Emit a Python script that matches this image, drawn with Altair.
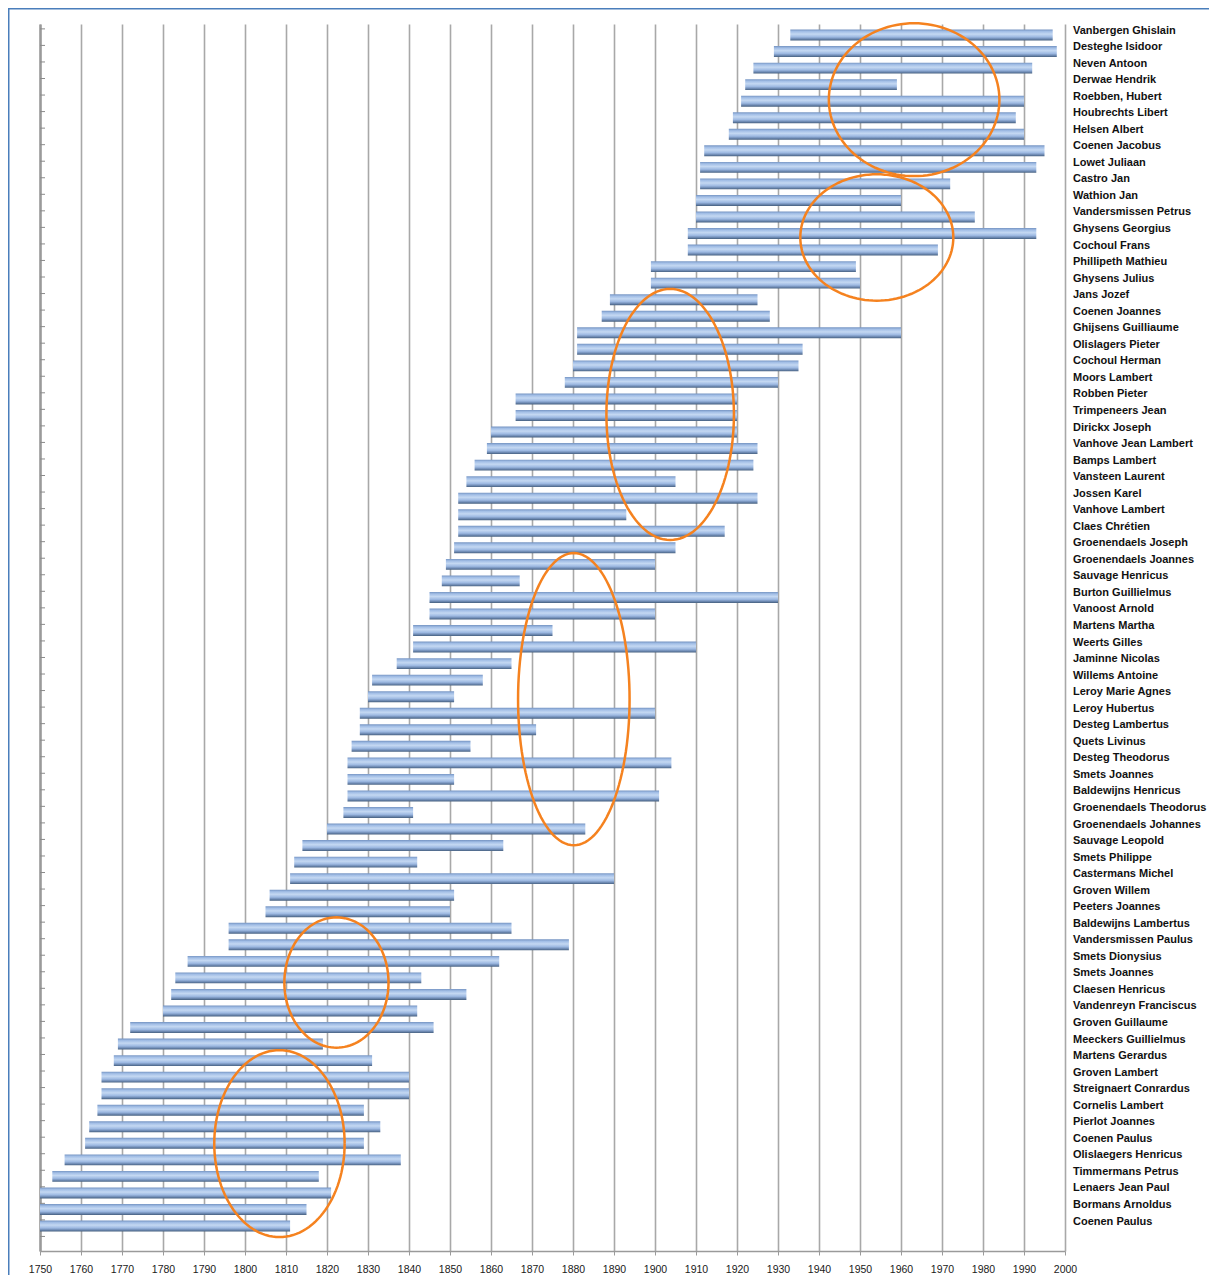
import altair as alt
import numpy as np
import pandas as pd

names = [
    "Vanbergen Ghislain", "Desteghe Isidoor", "Neven Antoon", "Derwae Hendrik",
    "Roebben, Hubert", "Houbrechts Libert", "Helsen Albert", "Coenen Jacobus",
    "Lowet Juliaan", "Castro Jan", "Wathion Jan", "Vandersmissen Petrus",
    "Ghysens Georgius", "Cochoul Frans", "Phillipeth Mathieu", "Ghysens Julius",
    "Jans Jozef", "Coenen Joannes", "Ghijsens Guilliaume", "Olislagers Pieter",
    "Cochoul Herman", "Moors Lambert", "Robben Pieter", "Trimpeneers Jean",
    "Dirickx Joseph", "Vanhove Jean Lambert", "Bamps Lambert", "Vansteen Laurent",
    "Jossen Karel", "Vanhove Lambert", "Claes Chrétien", "Groenendaels Joseph",
    "Groenendaels Joannes", "Sauvage Henricus", "Burton Guillielmus", "Vanoost Arnold",
    "Martens Martha", "Weerts Gilles", "Jaminne Nicolas", "Willems Antoine",
    "Leroy Marie Agnes", "Leroy Hubertus", "Desteg Lambertus", "Quets Livinus",
    "Desteg Theodorus", "Smets Joannes", "Baldewijns Henricus", "Groenendaels Theodorus",
    "Groenendaels Johannes", "Sauvage Leopold", "Smets Philippe", "Castermans Michel",
    "Groven Willem", "Peeters Joannes", "Baldewijns Lambertus", "Vandersmissen Paulus",
    "Smets Dionysius", "Smets Joannes", "Claesen Henricus", "Vandenreyn Franciscus",
    "Groven Guillaume", "Meeckers Guillielmus", "Martens Gerardus", "Groven Lambert",
    "Streignaert Conrardus", "Cornelis Lambert", "Pierlot Joannes", "Coenen Paulus",
    "Olislaegers Henricus", "Timmermans Petrus", "Lenaers Jean Paul", "Bormans Arnoldus",
    "Coenen Paulus",
]

starts = [1933, 1929, 1924, 1922, 1921, 1919, 1918, 1912, 1911, 1911,
          1910, 1910, 1908, 1908, 1899, 1899, 1889, 1887, 1881, 1881,
          1880, 1878, 1866, 1866, 1860, 1859, 1856, 1854, 1852, 1852,
          1852, 1851, 1849, 1848, 1845, 1845, 1841, 1841, 1837, 1831,
          1830, 1828, 1828, 1826, 1825, 1825, 1825, 1824, 1820, 1814,
          1812, 1811, 1806, 1805, 1796, 1796, 1786, 1783, 1782, 1780,
          1772, 1769, 1768, 1765, 1765, 1764, 1762, 1761, 1756, 1753,
          1750, 1750, 1750]

ends = [1997, 1998, 1992, 1959, 1990, 1988, 1990, 1995, 1993, 1972,
        1960, 1978, 1993, 1969, 1949, 1950, 1925, 1928, 1960, 1936,
        1935, 1930, 1920, 1920, 1920, 1925, 1924, 1905, 1925, 1893,
        1917, 1905, 1900, 1867, 1930, 1900, 1875, 1910, 1865, 1858,
        1851, 1900, 1871, 1855, 1904, 1851, 1901, 1841, 1883, 1863,
        1842, 1890, 1851, 1850, 1865, 1879, 1862, 1843, 1854, 1842,
        1846, 1819, 1831, 1840, 1840, 1829, 1833, 1829, 1838, 1818,
        1821, 1815, 1811]

x_ticks = list(range(1750, 2001, 10))

# annotation ellipses: centre year, centre row, radius (years), radius (rows)
ell_cx = [1963.2, 1954.1, 1903.7, 1880.2, 1822.3, 1808.4]
ell_cy = [3.91, 12.24, 22.94, 40.15, 57.28, 67.02]
ell_rx = [20.8, 18.66, 15.55, 13.6, 12.7, 15.9]
ell_ry = [4.62, 3.82, 7.59, 8.83, 3.94, 5.65]

W, H = 1025, 1227
Y_DOMAIN = [-0.665, 73.51]

bars = pd.DataFrame({
    "row": list(range(len(names))),
    "name": names,
    "start": starts,
    "end": ends,
})

ell_rows = []
for k in range(len(ell_cx)):
    for s in range(0, 121):
        t = 2 * np.pi * s / 120
        ell_rows.append({
            "id": k, "step": s,
            "ex": ell_cx[k] + ell_rx[k] * np.cos(t),
            "ey": ell_cy[k] + ell_ry[k] * np.sin(t),
        })
ell = pd.DataFrame(ell_rows)

ticks_df = pd.DataFrame({"tk": [i - 0.37 for i in range(len(names) + 1)]})

xscale = alt.Scale(domain=[1750, 2000], nice=False, zero=False)
yscale = alt.Scale(domain=Y_DOMAIN, reverse=True, nice=False, zero=False)

x_axis = alt.Axis(values=x_ticks, format="d", title=None, grid=True,
                  gridColor="#a8a8a8", gridWidth=1.6,
                  domainColor="#9a9a9a", domainWidth=1.5,
                  tickColor="#9a9a9a", tickSize=4,
                  labelFont="Liberation Sans", labelFontSize=10.5,
                  labelColor="#1a1a1a", labelPadding=9, labelFlush=False,
                  labelOverlap=False)
y_axis = alt.Axis(title=None, labels=False, ticks=False, grid=False,
                  domainColor="#9a9a9a", domainWidth=2.5)

grad = alt.Gradient(
    gradient="linear", x1=0, x2=0, y1=0, y2=1,
    stops=[
        alt.GradientStop(color="#7594c2", offset=0),
        alt.GradientStop(color="#a2bee6", offset=0.18),
        alt.GradientStop(color="#c4d8f2", offset=0.42),
        alt.GradientStop(color="#9db9e2", offset=0.68),
        alt.GradientStop(color="#6d89b2", offset=0.86),
        alt.GradientStop(color="#46607f", offset=1),
    ],
)

base = alt.Chart(bars)

bar_layer = base.mark_rect(fill=grad).transform_calculate(
    y_top="datum.row - 0.33", y_bot="datum.row + 0.33"
).encode(
    x=alt.X("start:Q", scale=xscale, axis=x_axis),
    x2="end:Q",
    y=alt.Y("y_top:Q", scale=yscale, axis=y_axis),
    y2="y_bot:Q",
)

label_layer = base.mark_text(
    align="left", baseline="middle", dy=-4.5,
    font="Liberation Sans", fontWeight="bold", fontSize=11, color="#111111",
).encode(
    x=alt.value(W + 8),
    y=alt.Y("row:Q", scale=yscale),
    text="name:N",
)

tick_layer = alt.Chart(ticks_df).mark_rule(color="#8a8a8a", strokeWidth=1).encode(
    x=alt.value(0), x2=alt.value(5),
    y=alt.Y("tk:Q", scale=yscale),
)

ell_layer = alt.Chart(ell).mark_line(
    color="#f5821f", strokeWidth=2.5, clip=False
).encode(
    x=alt.X("ex:Q", scale=xscale),
    y=alt.Y("ey:Q", scale=yscale),
    detail="id:N",
    order="step:Q",
)

frame = alt.Chart(pd.DataFrame({"f": [0]})).mark_rect(
    fillOpacity=0, stroke="#4a7ebb", strokeWidth=1.5
).encode(
    x=alt.value(-31.25), x2=alt.value(W + 400),
    y=alt.value(-15.25), y2=alt.value(H + 400),
)

chart = alt.layer(bar_layer, tick_layer, ell_layer, label_layer, frame).properties(
    width=W, height=H,
    autosize=alt.AutoSizeParams(type="none"),
    padding={"left": 32, "top": 16, "right": 144, "bottom": 24},
    background="white",
).configure_view(strokeWidth=0)

chart.save("out.html", embed_options={"renderer": "svg", "actions": False})
